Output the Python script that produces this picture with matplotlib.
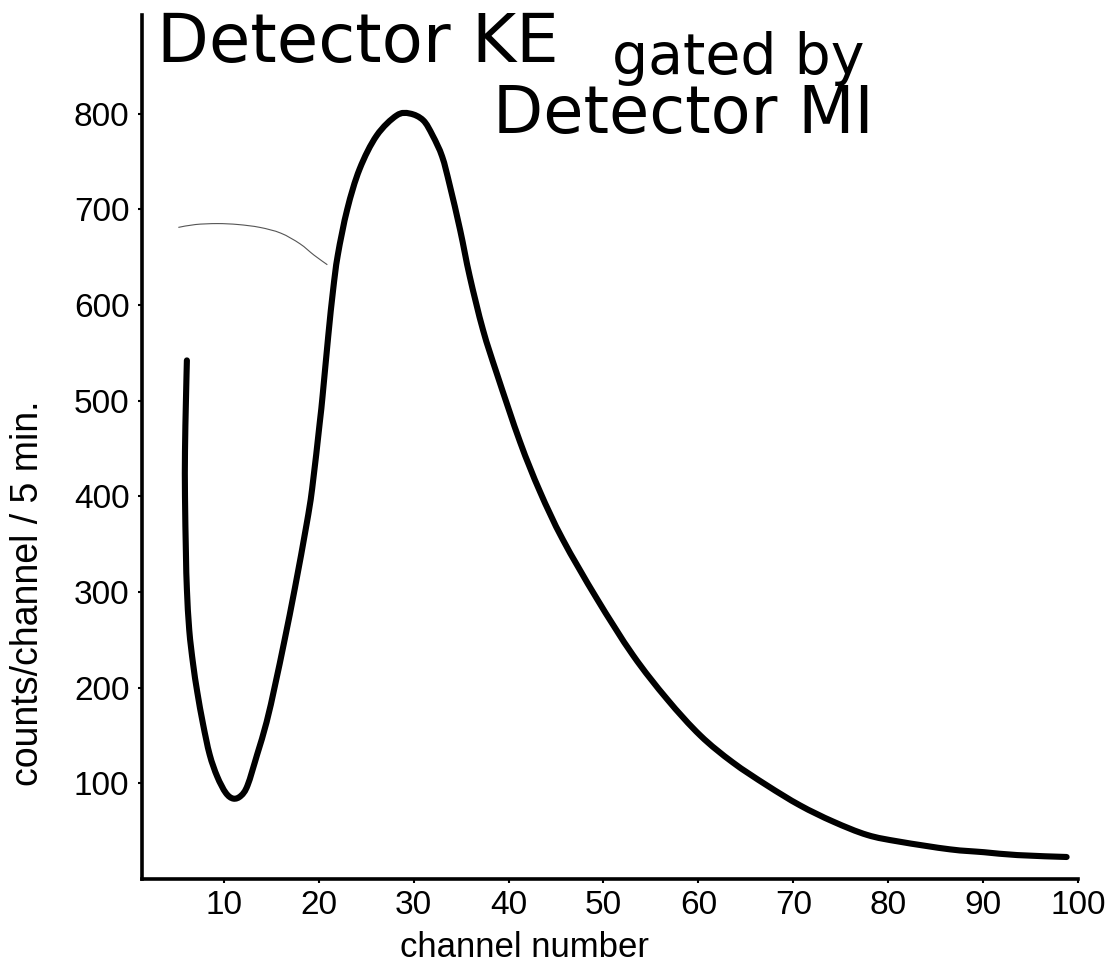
import matplotlib
matplotlib.use("Agg")
import matplotlib.pyplot as plt
from matplotlib.path import Path
from matplotlib.patches import PathPatch

# ---- data ----
channel = [6.1, 6.0, 5.9, 5.9, 6.0, 6.1, 6.35, 6.75, 7.2, 7.8, 8.5, 9.3, 10.2, 11.0, 11.8,
           12.5, 13.5, 14.5, 15.4, 16.4, 17.5, 18.7, 19.3, 20.1, 20.4, 21.0, 21.5,
           22.0, 23.0, 24.3, 26.1, 28.2, 29.6, 31.0, 32.0, 33.0, 33.8, 34.9, 35.9,
           37.3, 38.8, 41.2, 43.3, 45.7, 49.3, 53.1, 56.7, 60.2, 63.6, 67.2, 70.7,
           74.2, 77.8, 81.2, 86.5, 90.1, 93.6, 98.8]
counts = [542, 500, 447, 400, 340, 303, 260, 225, 195, 162, 130, 107, 90, 84, 87,
          98, 130, 164, 203, 250, 305, 370, 408, 477, 505, 568, 615,
          652, 700, 742, 777, 798, 800, 793, 777, 755, 725, 678, 630,
          574, 527, 457, 405, 355, 293, 234, 188, 150, 122, 98, 77,
          60, 46, 39, 31, 28, 25, 23]

# faint pencil arc in the upper left
arc_channel = [5.2, 7.0, 9.3, 11.5, 13.8, 16.0, 18.0, 19.5, 20.9]
arc_counts = [681, 684, 685, 684, 681, 675, 664, 652, 642]

x_ticks = [10, 20, 30, 40, 50, 60, 70, 80, 90, 100]
y_ticks = [100, 200, 300, 400, 500, 600, 700, 800]

title_line1a = "Detector KE"
title_line1b = "gated by"
title_line2 = "Detector MI"
x_label = "channel number"
y_label = "counts/channel / 5 min."


def smooth_path(xs, ys):
    """Catmull-Rom style Bezier path through the read points (drawn in data coords)."""
    pts = list(zip(xs, ys))
    n = len(pts)
    verts = [pts[0]]
    codes = [Path.MOVETO]
    for i in range(n - 1):
        p0 = pts[i - 1] if i > 0 else pts[i]
        p1 = pts[i]
        p2 = pts[i + 1]
        p3 = pts[i + 2] if i + 2 < n else pts[i + 1]
        c1 = (p1[0] + (p2[0] - p0[0]) / 6, p1[1] + (p2[1] - p0[1]) / 6)
        c2 = (p2[0] - (p3[0] - p1[0]) / 6, p2[1] - (p3[1] - p1[1]) / 6)
        verts += [c1, c2, p2]
        codes += [Path.CURVE4] * 3
    return Path(verts, codes)


W, H = 1117, 972
fig = plt.figure(figsize=(W / 100, H / 100), dpi=100)
fig.patch.set_facecolor("white")

left_px, right_px, bottom_px, top_px = 142, 1078, 879, 15
ax = fig.add_axes([left_px / W, 1 - bottom_px / H,
                   (right_px - left_px) / W, (bottom_px - top_px) / H])
ax.set_xlim(1.37, 100)
ax.set_ylim(0, 903)

ax.add_patch(PathPatch(smooth_path(channel, counts), facecolor="none",
                       edgecolor="black", lw=4.4, capstyle="round",
                       joinstyle="round"))
ax.add_patch(PathPatch(smooth_path(arc_channel, arc_counts), facecolor="none",
                       edgecolor="#555555", lw=0.8))

for s in ["top", "right"]:
    ax.spines[s].set_visible(False)
for s in ["left", "bottom"]:
    ax.spines[s].set_linewidth(2.6)
    ax.spines[s].set_color("black")

tick_font = {"family": ["Liberation Sans", "DejaVu Sans"], "size": 24}
ax.set_xticks(x_ticks)
ax.set_xticklabels([str(v) for v in x_ticks], fontdict=tick_font)
ax.set_yticks(y_ticks)
ax.set_yticklabels([str(v) for v in y_ticks], fontdict=tick_font)
ax.tick_params(axis="both", direction="out", length=3, width=1.5, color="black")
ax.tick_params(axis="y", pad=6)
ax.tick_params(axis="x", pad=5)

label_font = ["Liberation Sans", "DejaVu Sans"]
fig.text(400 / W, 1 - 957 / H, x_label, family=label_font, size=25,
         ha="left", va="baseline")
fig.text(28 / W, 1 - 593 / H, y_label, family=label_font, size=27,
         rotation=90, ha="center", va="center")

title_font = ["DejaVu Sans"]
fig.text(157 / W, 1 - 62 / H, title_line1a, family=title_font, size=48.5,
         ha="left", va="baseline")
fig.text(612 / W, 1 - 74 / H, title_line1b, family=title_font, size=41,
         ha="left", va="baseline")
fig.text(493 / W, 1 - 133 / H, title_line2, family=title_font, size=47,
         ha="left", va="baseline")

fig.savefig("out.png", dpi=100, facecolor="white")
